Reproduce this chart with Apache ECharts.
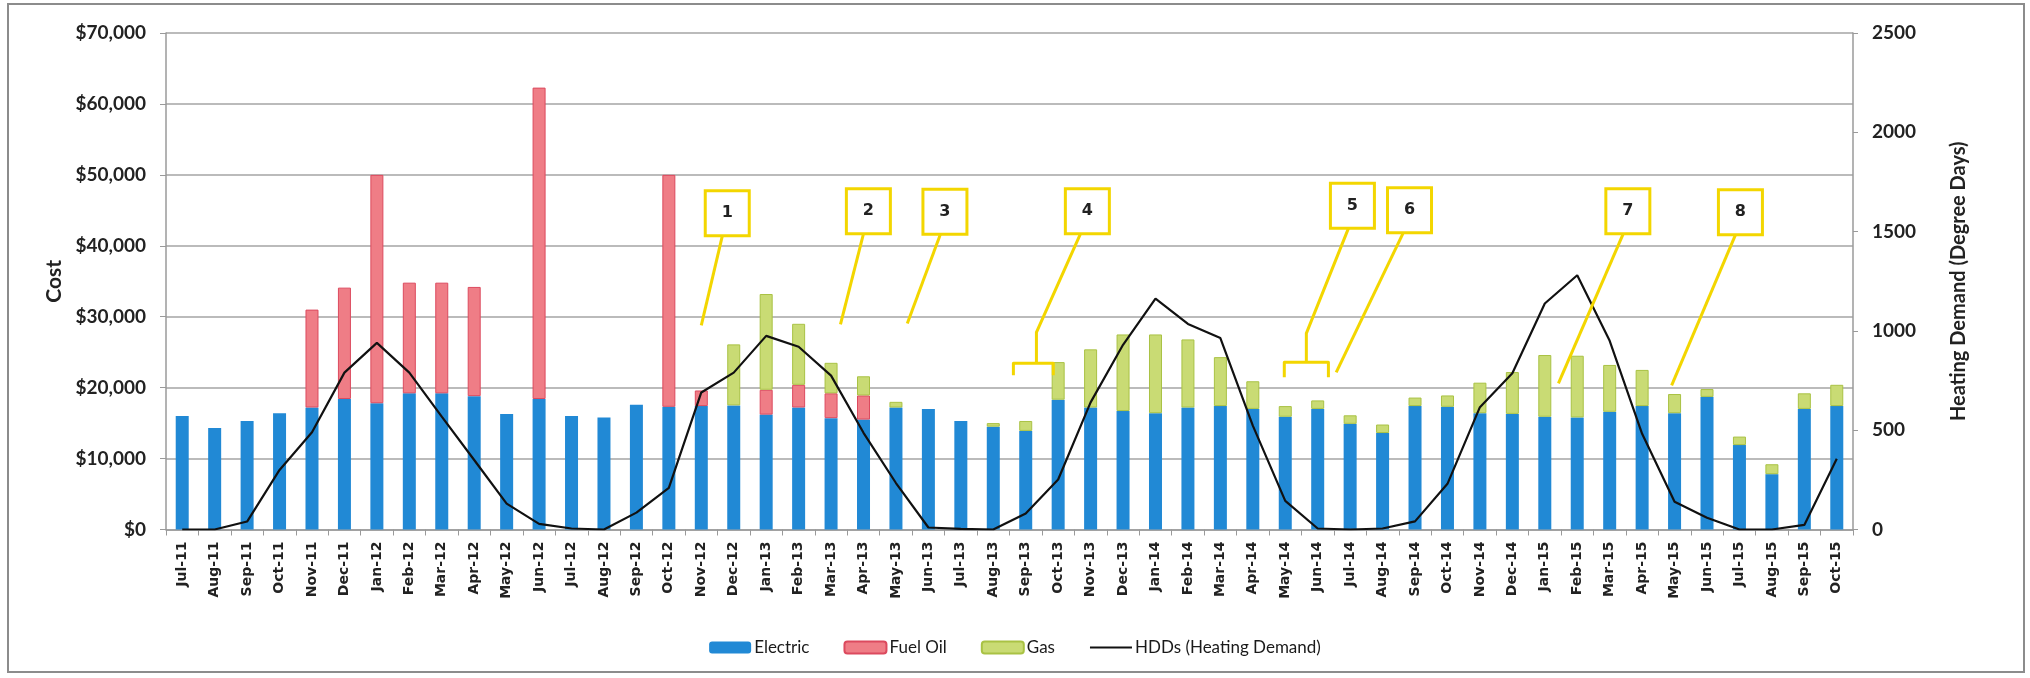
<!DOCTYPE html>
<html>
<head>
<meta charset="utf-8">
<script src="https://cdn.jsdelivr.net/npm/echarts@6/dist/echarts.min.js"></script>
<style>
html,body{margin:0;padding:0;background:#fff;}
#chart{width:2030px;height:678px;}
</style>
</head>
<body>
<div id="chart"></div>
<script>
// ---- DATA ----
const months = ["Jul-11","Aug-11","Sep-11","Oct-11","Nov-11","Dec-11","Jan-12","Feb-12","Mar-12","Apr-12","May-12","Jun-12","Jul-12","Aug-12","Sep-12","Oct-12","Nov-12","Dec-12","Jan-13","Feb-13","Mar-13","Apr-13","May-13","Jun-13","Jul-13","Aug-13","Sep-13","Oct-13","Nov-13","Dec-13","Jan-14","Feb-14","Mar-14","Apr-14","May-14","Jun-14","Jul-14","Aug-14","Sep-14","Oct-14","Nov-14","Dec-14","Jan-15","Feb-15","Mar-15","Apr-15","May-15","Jun-15","Jul-15","Aug-15","Sep-15","Oct-15"];
const electric = [16000,14300,15300,16400,17200,18400,17800,19200,19200,18800,16300,18400,16000,15800,17600,17300,17400,17500,16200,17200,15700,15500,17200,17000,15300,14500,13900,18300,17200,16700,16400,17200,17400,17000,15900,17000,14900,13600,17400,17300,16400,16300,15900,15800,16600,17400,16400,18700,11900,7800,17000,17400];
const fuelOil  = [0,0,0,0,13800,15700,32200,15600,15600,15400,0,43900,0,0,0,32700,2200,0,3500,3200,3500,3400,0,0,0,0,0,0,0,0,0,0,0,0,0,0,0,0,0,0,0,0,0,0,0,0,0,0,0,0,0,0];
const gas      = [0,0,0,0,0,0,0,0,0,0,0,0,0,0,0,0,0,8600,13500,8600,4300,2700,800,0,0,500,1400,5300,8200,10800,11100,9600,6900,3900,1500,1200,1200,1200,1200,1600,4300,5900,8700,8700,6600,5100,2700,1100,1200,1400,2200,3000];
const hdd      = [0,0,40,300,490,790,940,790,568,350,130,28,5,0,85,210,690,790,975,920,775,487,234,10,3,0,81,252,640,930,1163,1035,964,523,144,5,0,5,41,230,616,787,1138,1280,950,482,140,59,0,0,23,356];
const costTicks = [0,10000,20000,30000,40000,50000,60000,70000];
const hddTicks = [0,500,1000,1500,2000,2500];
const seriesNames = ["Electric","Fuel Oil","Gas","HDDs (Heating Demand)"];
// annotation anchors: label, box centre [category index, cost], leader path points, optional bracket
const notes = [
  {label:"1", box:[16.80,44600], path:[[16.65,41440],[16.00,28770]]},
  {label:"2", box:[21.15,44880], path:[[21.00,41720],[20.29,28910]]},
  {label:"3", box:[23.51,44810], path:[[23.37,41570],[22.35,29050]]},
  {label:"4", box:[27.90,44880], path:[[27.69,41720],[26.33,27790],[26.33,23430]], bracket:[[25.62,21740],[25.62,23430],[26.85,23430],[26.85,21740]]},
  {label:"5", box:[36.07,45660], path:[[35.95,42560],[34.65,27650],[34.65,23570]], bracket:[[33.97,21460],[33.97,23570],[35.33,23570],[35.33,21460]]},
  {label:"6", box:[37.83,45020], path:[[37.64,41820],[35.57,22160]]},
  {label:"7", box:[44.56,44880], path:[[44.42,41720],[42.42,20610]]},
  {label:"8", box:[48.03,44740], path:[[47.88,41570],[45.91,20330]]}
];

const nz = a => a.map(v => v === 0 ? null : v);
const fmt = v => '$' + v.toLocaleString('en-US');

const chart = echarts.init(document.getElementById('chart'), null, {renderer:'canvas'});
const option = {
  animation: false,
  backgroundColor: '#fff',
  grid: {left:166, right:177, top:33, bottom:148.5, containLabel:false},
  legend: {
    data: [
      {name: seriesNames[0]},
      {name: seriesNames[1]},
      {name: seriesNames[2]},
      {name: seriesNames[3], itemStyle:{opacity:0}}
    ],
    left: 1003, top: 634, width: 'auto',
    left: 'center',
    itemWidth: 42, itemHeight: 12, itemGap: 34,
    textStyle: {fontFamily:'Lato', fontSize:17, color:'#1a1a1a', padding:[0,0,0,-2]}
  },
  xAxis: {
    type: 'category',
    data: months,
    boundaryGap: true,
    axisLine: {lineStyle:{color:'#9a9a9a', width:1.5}},
    axisTick: {show:true, length:6, lineStyle:{color:'#9a9a9a'}},
    axisLabel: {rotate:90, fontFamily:'DejaVu Sans', fontWeight:'bold', fontSize:14, color:'#222', margin:12, interval:0}
  },
  yAxis: [
    {
      type: 'value', min: costTicks[0], max: costTicks[costTicks.length-1], interval: costTicks[1]-costTicks[0],
      name: 'Cost', nameLocation: 'middle', nameGap: 100, nameRotate: 90,
      nameTextStyle: {fontFamily:'Lato', fontWeight:'bold', fontSize:21, color:'#222'},
      axisLine: {show:true, lineStyle:{color:'#9a9a9a', width:1.5}},
      axisTick: {show:true, length:6, lineStyle:{color:'#9a9a9a'}},
      splitLine: {lineStyle:{color:'#a4a4a4', width:1.5}},
      axisLabel: {formatter: fmt, fontFamily:'Lato', fontWeight:'bold', fontSize:19, color:'#222', margin:20}
    },
    {
      type: 'value', min: hddTicks[0], max: hddTicks[hddTicks.length-1], interval: hddTicks[1]-hddTicks[0],
      alignTicks: false,
      name: 'Heating Demand (Degree Days)', nameLocation: 'middle', nameGap: 96, nameRotate: 90,
      nameTextStyle: {fontFamily:'Lato', fontWeight:'bold', fontSize:20, color:'#222'},
      axisLine: {show:true, lineStyle:{color:'#9a9a9a', width:1.5}},
      axisTick: {show:true, length:5, lineStyle:{color:'#9a9a9a'}},
      splitLine: {show:false},
      axisLabel: {formatter: v => String(v), fontFamily:'Lato', fontWeight:'bold', fontSize:19, color:'#222', margin:19}
    }
  ],
  series: [
    {name: seriesNames[0], type:'bar', stack:'cost', barWidth:13, data: nz(electric),
     itemStyle:{color:'#2189d5'}},
    {name: seriesNames[1], type:'bar', stack:'cost', barWidth:13, data: nz(fuelOil),
     itemStyle:{color:'#ef7d86', borderColor:'#dc4a5e', borderWidth:1}},
    {name: seriesNames[2], type:'bar', stack:'cost', barWidth:13, data: nz(gas),
     itemStyle:{color:'#c9db74', borderColor:'#a9c244', borderWidth:1}},
    {name: seriesNames[3], type:'line', yAxisIndex:1, data: hdd, symbol:'none', z:5,
     lineStyle:{color:'#111', width:2.2}, itemStyle:{color:'#111'}}
  ]
};
chart.setOption(option);

function px(p){
  const a = chart.convertToPixel({gridIndex:0}, [0, p[1]]);
  const b = chart.convertToPixel({gridIndex:0}, [1, p[1]]);
  return [a[0] + (b[0]-a[0]) * p[0], a[1]];
}
const yellow = '#f3d600';
const graphics = [];
// outer frame
graphics.push({type:'rect', shape:{x:8, y:4, width:2016, height:668}, style:{fill:null, stroke:'#8c8c8c', lineWidth:2}, silent:true, z:0});
notes.forEach(n => {
  const c = px(n.box);
  const w = 44, h = 45;
  const pts = [[c[0] + (px(n.path[0])[0]-c[0]), c[1] + h/2]].concat(n.path.slice(1).map(px));
  graphics.push({type:'polyline', shape:{points:pts}, style:{stroke:yellow, lineWidth:3, fill:null}, z:50});
  if (n.bracket) {
    graphics.push({type:'polyline', shape:{points:n.bracket.map(px)}, style:{stroke:yellow, lineWidth:3, fill:null, lineJoin:'round'}, z:50});
  }
  graphics.push({type:'rect', shape:{x:c[0]-w/2, y:c[1]-h/2, width:w, height:h}, style:{fill:'#fff', stroke:yellow, lineWidth:3}, z:51});
  graphics.push({type:'text', x:c[0], y:c[1], style:{text:n.label, fontFamily:'DejaVu Sans', fontWeight:'bold', fontSize:16, fill:'#222', align:'center', verticalAlign:'middle'}, z:52});
});
chart.setOption({graphic: graphics});
</script>
</body>
</html>
